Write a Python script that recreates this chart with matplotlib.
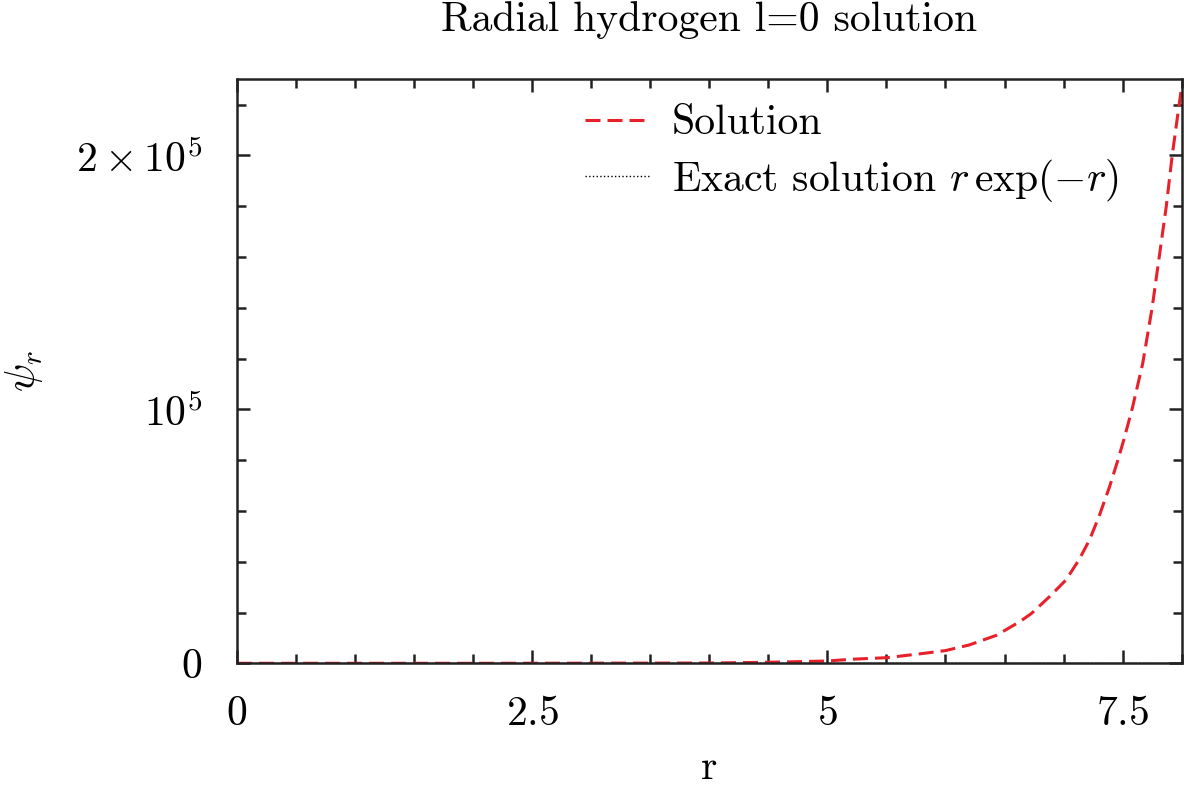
import matplotlib
matplotlib.use('Agg')
import matplotlib.pyplot as plt
from matplotlib.ticker import MultipleLocator, FixedLocator, FixedFormatter

plt.rcParams['font.family'] = 'serif'
plt.rcParams['font.serif'] = ['cmr10']
plt.rcParams['mathtext.fontset'] = 'cm'
plt.rcParams['axes.formatter.use_mathtext'] = True

# values (psi in units of 1e5)
r_sol = [0.0, 1.0, 2.0, 3.0, 4.0, 4.5, 5.0, 5.21, 5.5, 5.78, 6.0, 6.2, 6.43,
         6.63, 6.73, 6.88, 7.02, 7.13, 7.22, 7.30, 7.39, 7.46, 7.51, 7.58,
         7.67, 7.75, 7.81, 7.87, 7.92, 7.97, 8.0]
psi_sol = [0.0, 0.0, 0.0, 0.0005, 0.001, 0.004, 0.009, 0.016, 0.022, 0.037,
           0.05, 0.072, 0.11, 0.164, 0.197, 0.262, 0.328, 0.407, 0.486, 0.578,
           0.696, 0.80, 0.88, 1.0, 1.18, 1.4, 1.6, 1.8, 2.0, 2.17, 2.27]
r_exact = [0.0, 1.0, 2.0, 3.0, 4.0, 5.0, 6.0, 7.0, 8.0]
psi_exact = [0.0, 0.0, 0.0, 0.0, 0.0, 0.0, 0.0, 0.0, 0.0]

x_ticks = [0, 2.5, 5, 7.5]
x_labels = ['$0$', '$2.5$', '$5$', '$7.5$']
y_ticks = [0, 1e5, 2e5]
y_labels = ['$0$', r'$10^5$', r'$2\times10^5$']

fig = plt.figure(figsize=(11.84, 7.87), dpi=100)
ax = fig.add_axes([0.2002, 0.1572, 0.7978, 0.742])

ax.plot(r_exact, [v * 1e5 for v in psi_exact], color='black', ls=':', lw=1.0,
        label=r'Exact solution $r\,\exp(-r)$')
ax.plot(r_sol, [v * 1e5 for v in psi_sol], color='#e8202a', lw=2.2,
        dashes=(4.9, 2.3), label='Solution')

ax.set_xlim(0, 8)
ax.set_ylim(0, 2.3e5)
ax.xaxis.set_major_locator(FixedLocator(x_ticks))
ax.xaxis.set_major_formatter(FixedFormatter(x_labels))
ax.xaxis.set_minor_locator(MultipleLocator(0.5))
ax.yaxis.set_major_locator(FixedLocator(y_ticks))
ax.yaxis.set_major_formatter(FixedFormatter(y_labels))
ax.yaxis.set_minor_locator(MultipleLocator(0.2e5))

for s in ax.spines.values():
    s.set_linewidth(1.8)
    s.set_color('#222222')
ax.tick_params(which='both', direction='in', top=True, right=True,
               color='#222222', width=1.8)
ax.tick_params(which='major', length=9.5, labelsize=30)
ax.tick_params(which='minor', length=6.8)
ax.tick_params(axis='x', pad=23)
ax.tick_params(axis='y', pad=25)

ax.set_title('Radial hydrogen l=0 solution', fontsize=30, pad=35)
ax.set_xlabel('r', fontsize=30, labelpad=12)
ax.set_ylabel(r'$\psi_r$', fontsize=30, labelpad=22)

h, l = ax.get_legend_handles_labels()
ax.legend(h[::-1], l[::-1], loc='upper left', bbox_to_anchor=(0.368, 0.956),
          frameon=False, fontsize=30, handlelength=1.56, handletextpad=0.53,
          labelspacing=0.35, borderpad=0.0, borderaxespad=0.0)

fig.savefig('out.png', dpi=100)
